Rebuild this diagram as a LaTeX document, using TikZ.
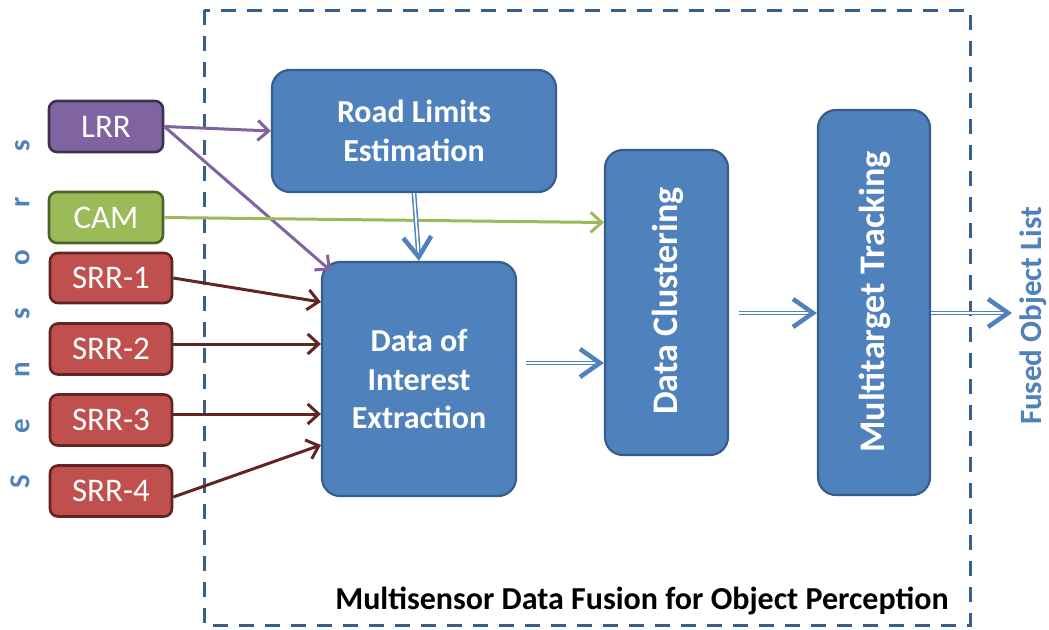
\documentclass[tikz,border=0pt]{standalone}
\usepackage{fontspec}
\setmainfont{Carlito}
\usetikzlibrary{arrows.meta,calc}
\definecolor{procblue}{HTML}{4F81BD}
\definecolor{procedge}{HTML}{385D8A}
\definecolor{framecol}{HTML}{3A5F8B}
\definecolor{lrrfill}{HTML}{8064A2}
\definecolor{lrredge}{HTML}{3F3151}
\definecolor{camfill}{HTML}{9BBB59}
\definecolor{camedge}{HTML}{4F6228}
\definecolor{srrfill}{HTML}{C0504D}
\definecolor{srredge}{HTML}{632523}
\tikzset{
  sensorbox/.style={draw, line width=2.6pt, rounded corners=8pt, text=white,
    inner sep=0pt, font=\fontsize{33}{38}\selectfont},
  lrrbox/.style={sensorbox, fill=lrrfill, draw=lrredge},
  cambox/.style={sensorbox, fill=camfill, draw=camedge},
  srrbox/.style={sensorbox, fill=srrfill, draw=srredge},
  procbox/.style={draw=procedge, fill=procblue, line width=2.2pt, rounded corners=18pt,
    text=white, inner sep=0pt, align=center, font=\bfseries\fontsize{32}{38.5}\selectfont},
  proctext/.style={text=white, inner sep=0pt, rotate=90, font=\bfseries\fontsize{36}{42}\selectfont},
  feed/.style={line width=3pt, -{Straight Barb[length=11pt,width=20pt,line width=3pt]}},
  flow/.style={draw=procblue, double=white, line width=1.5pt, double distance=1.8pt,
    -{Straight Barb[length=20pt,width=28pt,line width=4.5pt]}},
  frame/.style={draw=framecol, line width=3pt, dash pattern=on 15pt off 11pt}
}
\begin{document}
\begin{tikzpicture}[x=1pt,y=-1pt]
\useasboundingbox (0,0) rectangle (1049,629);

% dashed frame of the fusion block
\draw[frame] (204,10) rectangle (970,625);
\node[font=\bfseries\fontsize{32}{36}\selectfont, inner sep=0pt] (fusion) at (642,601)
  {Multisensor Data Fusion for Object Perception};

% sensor column label
\node[rotate=90, text=procblue, inner sep=0pt, font=\bfseries\fontsize{29}{32}\selectfont] (sensors) at (20,314)
  {\makebox[56pt]{S}\makebox[56pt]{e}\makebox[56pt]{n}\makebox[56pt]{s}\makebox[56pt]{o}\makebox[56pt]{r}\makebox[56pt]{s}};

% sensors
\node[lrrbox, minimum width=114pt, minimum height=51pt] (lrr) at (106,126.5) {LRR};
\node[cambox, minimum width=114pt, minimum height=51pt] (cam) at (106,217.5) {CAM};
\node[srrbox, minimum width=122pt, minimum height=50pt] (srr1) at (111,278) {SRR-1};
\node[srrbox, minimum width=122pt, minimum height=51pt] (srr2) at (111,349) {SRR-2};
\node[srrbox, minimum width=122pt, minimum height=51pt] (srr3) at (111,420) {SRR-3};
\node[srrbox, minimum width=122pt, minimum height=51pt] (srr4) at (111,491) {SRR-4};

% processing stages
\node[procbox, minimum width=284pt, minimum height=122pt] (rle) at (414,131) {Road Limits\\Estimation};
\node[procbox, minimum width=194pt, minimum height=234pt] (doi) at (419,379) {Data of\\Interest\\Extraction};
\node[procbox, minimum width=123pt, minimum height=305pt] (dc) at (666.5,302.5) {};
\node[proctext] (dctext) at (668,301) {Data Clustering};
\node[procbox, minimum width=112pt, minimum height=385pt] (mt) at (874,302.5) {};
\node[proctext] (mttext) at (875,302) {Multitarget Tracking};

% output
\node[rotate=90, anchor=base, text=procblue, inner sep=0pt, font=\bfseries\fontsize{31}{36}\selectfont] (fol) at (1041,316) {Fused Object List};
\coordinate (out) at (1012,313);

% sensor feeds
\draw[feed, draw=lrrfill] (lrr.east) -- (rle.west);
\draw[feed, draw=lrrfill] (lrr.east) -- ([xshift=10pt,yshift=-10pt]doi.north west);
\draw[feed, draw=camfill] (cam.east) -- ([yshift=80pt]dc.west);
\draw[feed, draw=srredge] (srr1.east) -- ([yshift=77pt]doi.west);
\draw[feed, draw=srredge] ([yshift=5pt]srr2.east) -- ([yshift=35pt]doi.west);
\draw[feed, draw=srredge] ([yshift=6pt]srr3.east) -- ([yshift=-35pt]doi.west);
\draw[feed, draw=srredge] ([yshift=-6pt]srr4.east) -- ([yshift=-66pt]doi.west);

% processing flow
\draw[flow] (rle.south) -- (doi.north);
\draw[flow] ([xshift=9pt,yshift=16pt]doi.east) -- ([yshift=-60.5pt]dc.west);
\draw[flow] ([xshift=10pt,yshift=-10.5pt]dc.east) -- ([yshift=-10.5pt]mt.west);
\draw[flow] ([yshift=-10.5pt]mt.east) -- (out);
\end{tikzpicture}
\end{document}
